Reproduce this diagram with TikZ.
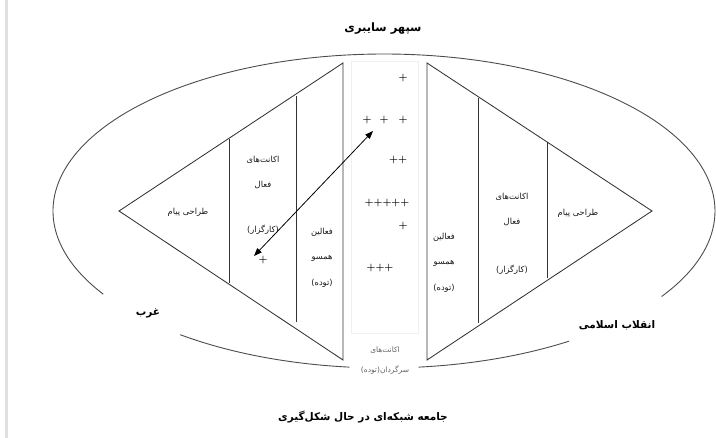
\documentclass[tikz,border=0pt]{standalone}
\usepackage{fontspec}
\usetikzlibrary{arrows.meta}
\TeXXeTstate=1
\newfontfamily\fafont[Script=Arabic]{DejaVu Sans}
\begin{document}
\begin{tikzpicture}[x=1pt,y=-1pt,
  lbl/.style={font=\fafont\fontsize{8.3}{10}\selectfont, text=black!90, inner sep=0pt},
  dim/.style={font=\fafont\fontsize{7.5}{9}\selectfont, text=black!60, inner sep=0pt},
  ttl/.style={font=\fafont\bfseries\fontsize{10.5}{12}\selectfont, inner sep=0pt},
  plus/.style={font=\bfseries\fontsize{10}{12}\selectfont, inner sep=0pt},
  edge/.style={draw=black!80, line width=0.85pt},
  orb/.style={draw=black!70, line width=0.9pt}]
\useasboundingbox (0,0) rectangle (716,438);
% left page bar
\fill[black!12] (5,0) rectangle (8,438);

% ellipse (cyber sphere), with gaps
\draw[orb] plot[domain=-33:212, samples=150, smooth] ({384+331*cos(\x)},{211-157*sin(\x)});
\draw[orb] plot[domain=232:264, samples=40, smooth] ({384+331*cos(\x)},{211-157*sin(\x)});
\draw[orb] plot[domain=276:304, samples=40, smooth] ({384+331*cos(\x)},{211-157*sin(\x)});

% centre box
\draw[draw=black!6, line width=0.8pt] (351,61) rectangle (418,333);

% left triangle
\coordinate (LA) at (119,211);
\coordinate (LB) at (343,63);
\coordinate (LC) at (343,360);
\draw[edge] (LA) -- (LB) -- (LC) -- cycle;
\draw[edge] (229,139) -- (229,283);
\draw[edge] (296,96) -- (296,322);

% right triangle
\coordinate (RD) at (427,63);
\coordinate (RE) at (427,360);
\coordinate (RF) at (652,211);
\draw[edge] (RD) -- (RF) -- (RE) -- cycle;
\draw[edge] (478,98) -- (478,323);
\draw[edge] (547,142) -- (547,278);

% titles
\node[ttl, font=\fafont\bfseries\fontsize{11.5}{13}\selectfont] (t1) at (383,29) {\beginR سپهر سایبری\endR};
\node[ttl] (t2) at (363,417) {\beginR جامعه شبکه‌ای در حال شکل‌گیری\endR};
\node[ttl] (t3) at (148,313) {\beginR غرب\endR};
\node[ttl] (t4) at (617,325) {\beginR انقلاب اسلامی\endR};

% left triangle labels
\node[lbl] (l1) at (188,212) {\beginR طراحی پیام\endR};
\node[lbl] (l2) at (263,160) {\beginR اکانت‌های\endR};
\node[lbl] (l3) at (263,185) {\beginR فعال\endR};
\node[lbl] (l4) at (263,230) {\beginR (کارگزار)\endR};
\node[lbl] (l5) at (322,232) {\beginR فعالین\endR};
\node[lbl] (l6) at (322,258) {\beginR همسو\endR};
\node[lbl] (l7) at (322,283) {\beginR (توده)\endR};

% right triangle labels
\node[lbl] (r1) at (578,213) {\beginR طراحی پیام\endR};
\node[lbl] (r2) at (512,197) {\beginR اکانت‌های\endR};
\node[lbl] (r3) at (512,222) {\beginR فعال\endR};
\node[lbl] (r4) at (512,270) {\beginR (کارگزار)\endR};
\node[lbl] (r5) at (444,237) {\beginR فعالین\endR};
\node[lbl] (r6) at (444,263) {\beginR همسو\endR};
\node[lbl] (r7) at (444,288) {\beginR (توده)\endR};

% centre bottom labels
\node[dim] (c1) at (385,350) {\beginR اکانت‌های\endR};
\node[dim] (c2) at (385,370) {\beginR سرگردان(توده)\endR};

% plus signs
\node[plus] (p1) at (403,78) {+};
\node[plus] (p2a) at (367,120) {+};
\node[plus] (p2b) at (384,120) {+};
\node[plus] (p2c) at (403,120) {+};
\node[plus] (p3) at (398,160) {++};
\node[plus] (p4) at (387,203) {+++++};
\node[plus] (p5) at (403,226) {+};
\node[plus] (p6) at (380,268) {+++};
\node[plus] (p7) at (263,260) {+};

% double arrow
\coordinate (aL) at (254,256);
\coordinate (aR) at (373,131);
\draw[line width=0.8pt, {Triangle[length=8pt,width=6pt]}-{Triangle[length=8pt,width=6pt]}] (aL) -- (aR);
\end{tikzpicture}
\end{document}
